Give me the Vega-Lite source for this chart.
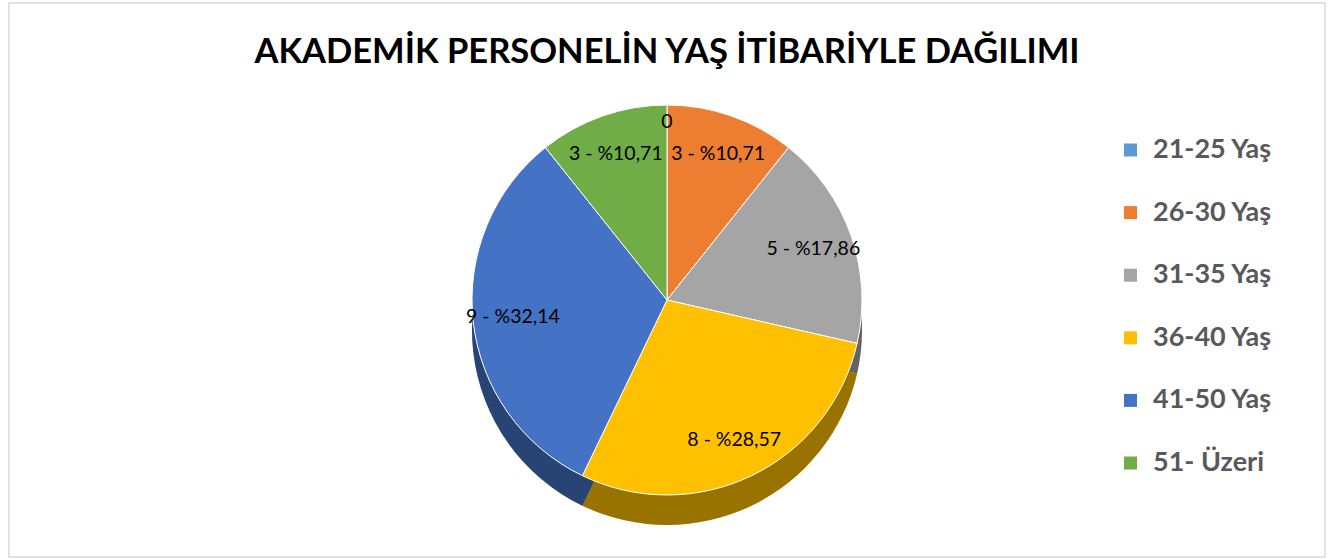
{
  "$schema": "https://vega.github.io/schema/vega-lite/v6.json",
  "width": 1316,
  "height": 554,
  "autosize": {"type": "none"},
  "padding": {"left": 9, "top": 3, "right": 13, "bottom": 2},
  "background": "white",
  "view": {"stroke": "#D9D9D9", "strokeWidth": 1.5, "fill": "white"},
  "title": {
    "text": "AKADEMİK PERSONELİN YAŞ İTİBARİYLE DAĞILIMI",
    "font": "Lato",
    "fontSize": 34.5,
    "fontWeight": "bold",
    "color": "#000000",
    "anchor": "middle",
    "frame": "group",
    "baseline": "alphabetic",
    "offset": -60,
    "dy": 34
  },
  "config": {
    "legend": {
      "orient": "none",
      "legendX": 1108,
      "legendY": 133.5,
      "title": null,
      "symbolType": "square",
      "symbolSize": 169,
      "symbolStrokeWidth": 0,
      "labelFont": "Lato",
      "labelFontSize": 27,
      "labelFontWeight": "bold",
      "labelColor": "#595959",
      "labelOffset": 9,
      "rowPadding": 34.6,
      "padding": 0
    }
  },
  "data": {
    "values": [
      {"yas": "21-25 Yaş", "n": 0, "label": "0", "idx": 1},
      {"yas": "26-30 Yaş", "n": 3, "label": "3 - %10,71", "idx": 2},
      {"yas": "31-35 Yaş", "n": 5, "label": "5 - %17,86", "idx": 3},
      {"yas": "36-40 Yaş", "n": 8, "label": "8 - %28,57", "idx": 4},
      {"yas": "41-50 Yaş", "n": 9, "label": "9 - %32,14", "idx": 5},
      {"yas": "51- Üzeri", "n": 3, "label": "3 - %10,71", "idx": 6}
    ]
  },
  "encoding": {
    "theta": {"field": "n", "type": "quantitative", "stack": true},
    "order": {"field": "idx", "type": "quantitative"}
  },
  "layer": [
    {
      "mark": {"type": "arc", "outerRadius": 195, "yOffset": 50},
      "encoding": {
        "color": {
          "field": "yas",
          "type": "nominal",
          "scale": {
            "domain": ["21-25 Yaş", "26-30 Yaş", "31-35 Yaş", "36-40 Yaş", "41-50 Yaş", "51- Üzeri"],
            "range": ["#5B9BD5", "#ED7D31", "#A5A5A5", "#FFC000", "#4472C4", "#70AD47"]
          },
          "sort": null
        }
      }
    },
    {
      "mark": {"type": "arc", "outerRadius": 195, "yOffset": 50, "color": "#000000", "opacity": 0.4},
      "encoding": {}
    },
    {
      "mark": {"type": "arc", "outerRadius": 195, "yOffset": 20, "stroke": "#FFFFFF", "strokeWidth": 1},
      "encoding": {
        "color": {"field": "yas", "type": "nominal", "sort": null}
      }
    },
    {
      "transform": [{"filter": "datum.idx > 1"}],
      "mark": {"type": "text", "radius": 155, "yOffset": 20, "font": "Lato", "fontSize": 19.5, "color": "#000000"},
      "encoding": {
        "text": {"field": "label", "type": "nominal"}
      }
    },
    {
      "transform": [{"filter": "datum.idx == 1"}],
      "mark": {"type": "text", "radius": 178, "yOffset": 20, "font": "Lato", "fontSize": 19.5, "color": "#000000"},
      "encoding": {
        "text": {"field": "label", "type": "nominal"}
      }
    }
  ]
}
